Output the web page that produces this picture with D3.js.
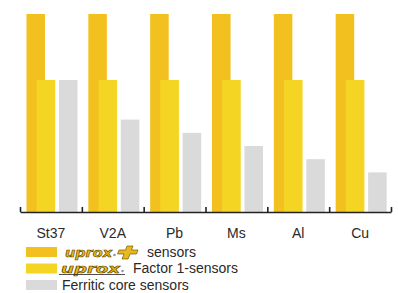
<html>
<head>
<meta charset="utf-8">
<title>uprox sensors</title>
<style>
  body { margin: 0; background: #fff; }
  text { font-family: "Liberation Sans", Arial, sans-serif; }
</style>
<script src="https://d3js.org/d3.v7.min.js"></script>
</head>
<body>
<svg width="398" height="293"></svg>
<script>
var categories = ["St37", "V2A", "Pb", "Ms", "Al", "Cu"];
var upproxPlus = [1.5, 1.5, 1.5, 1.5, 1.5, 1.5];
var factorOne = [1.0, 1.0, 1.0, 1.0, 1.0, 1.0];
var ferritic = [1.0, 0.7, 0.6, 0.5, 0.4, 0.3];

var svg = d3.select("svg"),
    left = 20, right = 391, base = 212;

var x = d3.scaleBand().domain(categories).range([left, right]);
var y = d3.scaleLinear().domain([0, 1.5]).range([base, 14]);
var bw = x.bandwidth();

var series = [
  {vals: upproxPlus, off: 0.105, color: "#f3c11f"},
  {vals: factorOne, off: 0.27, color: "#f4d524"},
  {vals: ferritic, off: 0.63, color: "#d9dad9"}
];

series.forEach(function(s) {
  svg.append("g").selectAll("rect")
    .data(categories)
    .enter().append("rect")
      .attr("x", (d) => x(d) + bw * s.off)
      .attr("width", bw * 0.3)
      .attr("y", (d, i) => y(s.vals[i]))
      .attr("height", (d, i) => base - y(s.vals[i]))
      .attr("fill", s.color);
});

// axis with upward ticks at group boundaries
var xb = d3.scaleLinear().domain([0, categories.length]).range([left, right]);
var axis = svg.append("g")
    .attr("transform", `translate(0,${base})`)
    .call(d3.axisBottom(xb).ticks(categories.length).tickSize(-5).tickSizeOuter(0).tickFormat(""));
axis.select(".domain").attr("stroke", "#222").attr("stroke-width", 1.6);
axis.selectAll(".tick line").attr("stroke", "#222").attr("stroke-width", 1.6);

svg.append("g").selectAll("text")
  .data(categories)
  .enter().append("text")
    .attr("x", (d) => x(d) + bw / 2)
    .attr("y", 237.5)
    .attr("text-anchor", "middle")
    .style("font-size", "14px")
    .attr("fill", "#2a2a2a")
    .text((d) => d);

// legend
var legend = svg.append("g");
var rows = [
  {color: "#f3c11f", y: 247},
  {color: "#f4d524", y: 263.5},
  {color: "#d9dad9", y: 280}
];
legend.selectAll("rect")
  .data(rows)
  .enter().append("rect")
    .attr("x", 26).attr("y", (d) => d.y)
    .attr("width", 31).attr("height", 10)
    .attr("fill", (d) => d.color);

function logo(xp, yp, w) {
  legend.append("text")
    .attr("x", xp).attr("y", yp)
    .attr("textLength", w).attr("lengthAdjust", "spacingAndGlyphs")
    .style("font-family", "DejaVu Sans")
    .style("font-weight", "bold")
    .style("font-style", "italic")
    .style("font-size", "13px")
    .attr("fill", "#e9b81c")
    .attr("stroke", "#5a4300")
    .attr("stroke-width", 0.6)
    .text("uprox");
  legend.append("circle")
    .attr("cx", xp + w + 2.5).attr("cy", yp - 2).attr("r", 1.3)
    .attr("fill", "#999");
}

logo(65, 257, 47);
legend.append("path")
  .attr("d", "M127,246 L133,246 L131.5,250 L138,250 L136.5,254 L130,254 L128,259 L122,259 L124,254 L117.5,254 L119,250 L125.5,250 Z")
  .attr("fill", "#e9b81c")
  .attr("stroke", "#5a4300")
  .attr("stroke-width", 0.6);
legend.append("text")
  .attr("x", 147).attr("y", 257)
  .style("font-size", "14px").attr("fill", "#2a2a2a")
  .text("sensors");

logo(61, 273, 59);
legend.append("line")
  .attr("x1", 59).attr("x2", 125).attr("y1", 274.5).attr("y2", 274.5)
  .attr("stroke", "#222").attr("stroke-width", 0.8);
legend.append("text")
  .attr("x", 133).attr("y", 273)
  .style("font-size", "14px").attr("fill", "#2a2a2a")
  .text("Factor 1-sensors");

legend.append("text")
  .attr("x", 62).attr("y", 289.5)
  .style("font-size", "14px").attr("fill", "#2a2a2a")
  .text("Ferritic core sensors");
</script>
</body>
</html>
